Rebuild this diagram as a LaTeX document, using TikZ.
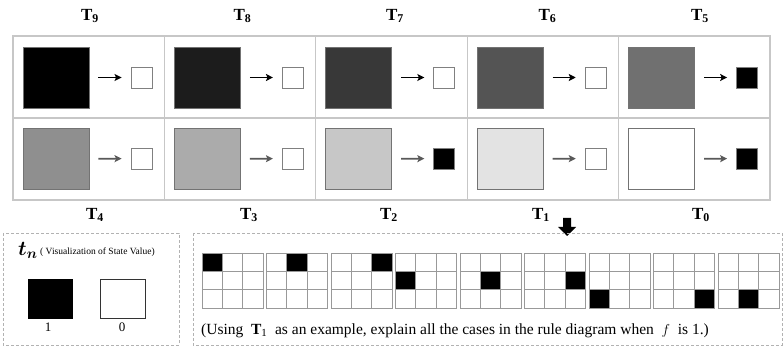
\documentclass[tikz,border=0pt]{standalone}
\usepackage{fontspec}
\usepackage{bm}
\setmainfont{Liberation Serif}
\usetikzlibrary{arrows.meta}

\tikzset{
  frameline/.style={draw=black!22, line width=1.2pt},
  bigsq/.style={draw=black!55, line width=0.8pt, minimum width=66pt, minimum height=61pt, inner sep=0pt},
  smallsq/.style={draw=black!50, line width=0.9pt, minimum size=21pt, inner sep=0pt},
  maparrow/.style={-{Stealth[length=7pt,width=7pt,inset=1.5pt]}, line width=1.7pt, shorten <=9pt, shorten >=9pt},
  tlabel/.style={font=\fontsize{17}{19}\selectfont\bfseries, inner sep=0pt},
  dashbox/.style={draw=black!30, line width=0.8pt, dash pattern=on 3pt off 2pt},
  gridline/.style={draw=black!40, line width=0.7pt}
}
\newcommand\Tlab[1]{T\textsubscript{#1}}

\begin{document}
\begin{tikzpicture}[x=1pt, y=-1pt]
\useasboundingbox (0,0) rectangle (784,347);

% table of state values
\draw[frameline] (13,36) rectangle (770,200);
\draw[frameline] (13,118) -- (770,118);
\foreach \k in {1,...,4} \draw[frameline] (13+151.4*\k,36) -- (13+151.4*\k,200);

% upper row: T9 ... T5
\foreach \c/\shade/\out/\n in {0/100/0/9, 1/89/0/8, 2/78/0/7, 3/67/0/6, 4/56/1/5} {
  \pgfmathsetmacro\lft{13+151.4*\c}
  \node[bigsq, fill=black!\shade] (big\n) at (\lft+43,77.5) {};
  \pgfmathsetmacro\of{100*\out}
  \node[smallsq, fill=black!\of] (out\n) at (\lft+128.5,77.5) {};
  \draw[maparrow, black] (big\n) -- (out\n);
  \node[tlabel] (lab\n) at (90+152.5*\c,16) {\Tlab{\n}};
}

% lower row: T4 ... T0
\foreach \c/\shade/\out/\n/\lx in {0/44/0/4/95, 1/33/0/3/249, 2/22/1/2/389, 3/11/0/1/541, 4/0/1/0/701} {
  \pgfmathsetmacro\lft{13+151.4*\c}
  \node[bigsq, fill=black!\shade] (big\n) at (\lft+43,159) {};
  \pgfmathsetmacro\of{100*\out}
  \node[smallsq, fill=black!\of] (out\n) at (\lft+128.5,158.5) {};
  \draw[maparrow, black!65] (big\n) -- (out\n);
  \node[tlabel] (lab\n) at (\lx,215) {\Tlab{\n}};
}

% pointer down to the rule cases
\fill[black] (563,218) -- (571,218) -- (571,227) -- (576,227) -- (567,236) -- (558,227) -- (563,227) -- cycle;

% legend
\draw[dashbox] (3,233) rectangle (179,345);
\node[anchor=west, inner sep=0pt] (tn) at (18,250) {\fontsize{21}{23}\selectfont$\bm{t_n}$};
\node[anchor=west, inner sep=0pt] (tntext) at (40,252) {\fontsize{9.5}{11}\selectfont( Visualization of State Value)};
\node[draw=black, line width=0.8pt, fill=black, minimum width=44pt, minimum height=39pt, inner sep=0pt] (one) at (50,298.5) {};
\node[draw=black!80, line width=0.9pt, fill=white, minimum width=45pt, minimum height=39pt, inner sep=0pt] (zero) at (122.5,298.5) {};
\node[font=\fontsize{13}{15}\selectfont, inner sep=0pt] (onelab) at (48,327) {1};
\node[font=\fontsize{13}{15}\selectfont, inner sep=0pt] (zerolab) at (122,327) {0};

% rule cases for f = 1
\draw[dashbox] (193,233) rectangle (782,345);
\foreach \g/\r/\q in {0/0/0, 1/0/1, 2/0/2, 3/1/0, 4/1/1, 5/1/2, 6/2/0, 7/2/2, 8/2/1} {
  \pgfmathsetmacro\gx{202+64.5*\g}
  \fill[black] (\gx+20.33*\q,253+18.33*\r) rectangle ++(20.33,18.33);
  \draw[gridline] (\gx,253) rectangle (\gx+61,308);
  \foreach \k in {1,2} {
    \draw[gridline] (\gx+20.33*\k,253) -- (\gx+20.33*\k,308);
    \draw[gridline] (\gx,253+18.33*\k) -- (\gx+61,253+18.33*\k);
  }
}
\node[font=\fontsize{15.5}{17}\selectfont, inner sep=0pt] (caption) at (455,331)
  {(Using\ \ \textbf{T}\textsubscript{1}\ \ as an example, explain all the cases in the rule diagram when\ \ $f$\ \ is 1.)};
\end{tikzpicture}
\end{document}
